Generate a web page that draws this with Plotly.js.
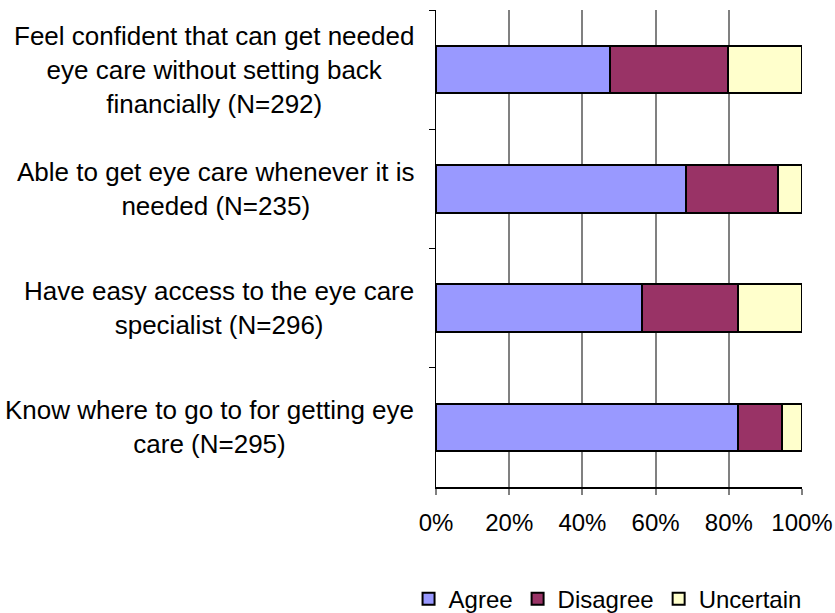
<!DOCTYPE html>
<html>
<head>
<meta charset="utf-8">
<script src="https://cdn.plot.ly/plotly-3.0.1.min.js"></script>
<style>html,body{margin:0;padding:0;background:#fff;}#chart{width:835px;height:613px;}</style>
</head>
<body>
<div id="chart"></div>
<script>
var categories = [
  "Feel confident that can get needed<br>eye care without setting back<br>financially (N=292)",
  "Able to get eye care whenever it is<br>needed (N=235)",
  "Have easy access to the eye care<br>specialist (N=296)",
  "Know where to go to for getting eye<br>care (N=295)"
];
var agree = [0.475, 0.682, 0.563, 0.824];
var disagree = [0.322, 0.252, 0.262, 0.121];
var uncertain = [0.203, 0.066, 0.175, 0.055];
var seriesNames = ["Agree", "Disagree", "Uncertain"];
var seriesColors = ["#9999FF", "#993366", "#FFFFCC"];
var xTickVals = [0, 0.2, 0.4, 0.6, 0.8, 1.0];

var font = "Liberation Sans, Arial, sans-serif";
var vals = [agree, disagree, uncertain];
var traces = vals.map(function (v, i) {
  return {
    type: "bar",
    orientation: "h",
    name: seriesNames[i],
    x: v,
    y: categories,
    marker: { color: seriesColors[i], line: { color: "#000", width: 2 } },
    hoverinfo: "x+name"
  };
});

var annotations = categories.map(function (c) {
  return {
    xref: "paper", yref: "y",
    x: -0.055, y: c,
    xanchor: "right", yanchor: "middle",
    align: "center",
    text: c,
    showarrow: false,
    font: { family: font, size: 26, color: "#000" }
  };
});

var layout = {
  width: 835, height: 613,
  margin: { l: 436, r: 33, t: 10, b: 126, autoexpand: false },
  paper_bgcolor: "#fff",
  plot_bgcolor: "#fff",
  barmode: "stack",
  bargap: 0.6,
  font: { family: font, color: "#000" },
  xaxis: {
    range: [0, 1],
    tickvals: xTickVals,
    tickformat: ".0%",
    showgrid: true,
    gridcolor: "#808080",
    gridwidth: 2,
    zeroline: false,
    showline: true,
    linecolor: "#000",
    linewidth: 1.5,
    ticks: "outside",
    ticklen: 6,
    tickwidth: 2,
    tickcolor: "#808080",
    ticklabelstandoff: 8,
    tickfont: { family: font, size: 24, color: "#000" },
    fixedrange: true
  },
  yaxis: {
    type: "category",
    autorange: "reversed",
    showticklabels: false,
    showgrid: false,
    zeroline: false,
    showline: true,
    linecolor: "#000",
    linewidth: 1.5,
    ticks: "outside",
    tickson: "boundaries",
    ticklen: 6,
    tickcolor: "#000",
    fixedrange: true
  },
  showlegend: true,
  legend: {
    orientation: "h",
    x: -0.075, xanchor: "left",
    y: -0.235, yanchor: "middle",
    font: { family: font, size: 24, color: "#000" },
    itemwidth: 30,
    traceorder: "normal"
  },
  annotations: annotations
};

Plotly.newPlot("chart", traces, layout, { displayModeBar: false, staticPlot: true });
</script>
</body>
</html>
